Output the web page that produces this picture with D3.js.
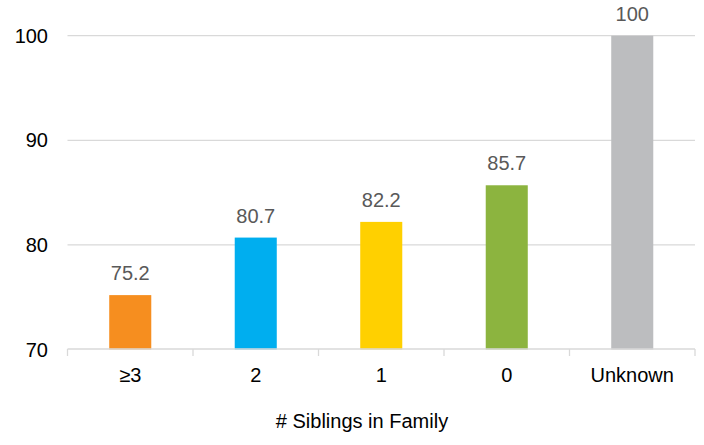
<!DOCTYPE html>
<html><head><meta charset="utf-8">
<script src="https://cdn.jsdelivr.net/npm/d3@7"></script>
<style>body{margin:0;background:#fff}svg{display:block}text{font-family:"Liberation Sans",Arial,sans-serif}</style>
</head><body>
<script>
const categories = ["≥3", "2", "1", "0", "Unknown"];
const values = [75.2, 80.7, 82.2, 85.7, 100];
const colors = ["#F68E1F", "#00AEEF", "#FFD000", "#8CB43F", "#BCBDBF"];
const yTicks = [70, 80, 90, 100];
const xTitle = "# Siblings in Family";

const W = 704, H = 445;
const svg = d3.select("body").append("svg").attr("width", W).attr("height", H);

const x = d3.scaleBand().domain(categories).range([67.5, 695]).paddingInner(0.665).paddingOuter(0.3325);
const y = d3.scaleLinear().domain([70, 100]).range([349.5, 35.7]);

// gridlines
svg.append("g").selectAll("line").data(yTicks.filter(t => t > 70)).join("line")
  .attr("x1", 67.5).attr("x2", 695)
  .attr("y1", d => y(d)).attr("y2", d => y(d))
  .attr("stroke", "#d9d9d9").attr("stroke-width", 1.3);

// y labels
svg.append("g").selectAll("text").data(yTicks).join("text")
  .attr("x", 48).attr("y", d => y(d)).attr("dy", "0.35em")
  .attr("text-anchor", "end").attr("font-size", 20).attr("fill", "#000")
  .text(d => d);

// bars
svg.append("g").selectAll("rect").data(values).join("rect")
  .attr("x", (d, i) => x(categories[i]))
  .attr("width", x.bandwidth())
  .attr("y", d => y(d))
  .attr("height", d => y(70) - y(d))
  .attr("fill", (d, i) => colors[i]);

// data labels
svg.append("g").selectAll("text").data(values).join("text")
  .attr("x", (d, i) => x(categories[i]) + x.bandwidth() / 2)
  .attr("y", d => y(d) - 15)
  .attr("text-anchor", "middle").attr("font-size", 20).attr("fill", "#595959")
  .text(d => d);

// x axis line and ticks
const ax = svg.append("g");
ax.append("line").attr("x1", 67.5).attr("x2", 695).attr("y1", 349).attr("y2", 349)
  .attr("stroke", "#d9d9d9").attr("stroke-width", 1.3);
const bounds = categories.map(c => x(c) - x.step() * x.paddingInner() / 2).concat([695]);
ax.selectAll("line.t").data(bounds).join("line").attr("class", "t")
  .attr("x1", d => d).attr("x2", d => d).attr("y1", 349).attr("y2", 356)
  .attr("stroke", "#d9d9d9").attr("stroke-width", 1.3);

// x labels
svg.append("g").selectAll("text").data(categories).join("text")
  .attr("x", d => x(d) + x.bandwidth() / 2).attr("y", 382)
  .attr("text-anchor", "middle").attr("font-size", 20).attr("fill", "#000")
  .text(d => d);

// axis title
svg.append("text").attr("x", 362).attr("y", 428).attr("text-anchor", "middle")
  .attr("font-size", 20).attr("fill", "#000").text(xTitle);
</script>
</body></html>
